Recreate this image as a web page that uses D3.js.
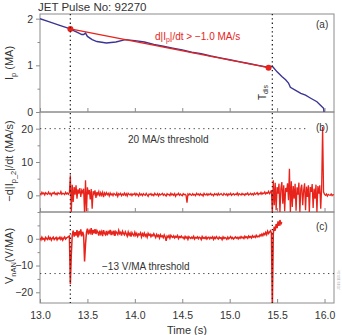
<!DOCTYPE html>
<html><head><meta charset="utf-8">
<script src="https://cdn.jsdelivr.net/npm/d3@7"></script>
<style>body{margin:0;background:#fff}svg{display:block;font-family:"Liberation Sans",Arial,sans-serif}</style>
</head><body><svg id="c" width="342" height="335"></svg>
<script>
const title = "JET Pulse No: 92270";
const xTicks = [13.0, 13.5, 14.0, 14.5, 15.0, 15.5, 16.0];
const xTickLabels = ["13.0", "13.5", "14.0", "14.5", "15.0", "15.5", "16.0"];
const aTicks = [0, 1, 2], aMinor = [0.5, 1.5];
const bTicks = [0, 10, 20], bMinor = [-5, 5, 15, 25];
const cTicks = [-20, -10, 0], cMinor = [-15, -5, 5];

// Plasma current (panel a)
const ipTime = [13.00,13.10,13.20,13.32,13.36,13.40,13.44,13.46,13.48,13.50,13.55,13.60,13.70,13.80,13.90,14.00,14.10,14.20,14.30,14.40,14.50,14.60,14.70,14.80,14.90,15.00,15.10,15.20,15.30,15.40,15.45,15.50,15.55,15.59,15.62,15.64,15.70,15.75,15.80,15.85,15.92,15.96,15.99,15.995];
const ipVal  = [2.00,1.93,1.86,1.78,1.74,1.70,1.66,1.66,1.69,1.62,1.55,1.51,1.48,1.50,1.55,1.53,1.50,1.45,1.41,1.37,1.33,1.28,1.25,1.20,1.16,1.12,1.08,1.04,1.00,0.96,0.98,0.86,0.76,0.69,0.62,0.53,0.46,0.40,0.36,0.30,0.22,0.14,0.08,0.0];
const fitTime = [13.32, 15.41];
const fitVal  = [1.78, 0.95];

// -d|Ip2|/dt (panel b), sampled every 0.01 s from 13.00
const dipStart = 13.0, dipStep = 0.01;
const dipVal = [0.6,0.2,0.9,0.4,0.7,0.1,0.8,0.5,0.3,1.0,0.4,0.6,0.0,0.7,0.5,0.9,0.3,0.6,0.2,0.8,0.5,0.4,1.1,0.3,0.6,0.5,0.2,0.9,0.4,0.7,0.3,0.8,
6.0,-5.5,3.2,-2,2.5,0.2,3.0,-1.0,1.8,0.5,2.2,-0.5,1.5,0.8,2.0,-5.5,4.5,-4.8,2.4,0.3,1.6,-1.2,1.9,-4.0,1.2,0.4,1.5,-0.8,1.0,
0.2,1.1,-0.3,0.8,0.0,0.9,-0.5,0.7,0.1,0.8,
0.2,0.6,-0.2,0.7,0.1,0.5,-0.1,0.6,0.3,0.0,0.7,-0.3,0.5,0.2,0.6,-0.1,0.4,0.1,0.7,0.0,0.5,-0.2,0.6,0.3,0.1,0.5,-0.1,0.4,0.2,0.6,
0.0,0.5,0.2,-0.2,0.6,0.1,0.4,-0.1,0.5,0.2,0.0,0.6,0.1,-0.3,0.4,0.2,0.5,0.0,0.3,-0.1,0.6,0.2,0.1,0.5,-0.2,0.4,0.1,0.3,0.6,0.0,
0.4,0.1,-0.2,0.5,0.2,0.3,-0.1,0.6,0.1,0.4,0.0,0.5,-0.3,0.3,0.2,0.6,0.0,0.4,0.1,-0.1,0.5,0.2,0.3,0.0,-2.2,0.4,0.1,0.5,0.2,0.0,
0.5,0.1,0.3,-0.1,0.6,0.2,0.4,0.0,0.5,0.1,0.3,-0.2,0.6,0.2,0.1,0.5,0.0,0.4,0.2,0.6,0.1,0.3,-0.1,0.5,0.2,0.4,0.0,0.6,0.1,0.3,
0.5,0.2,0.0,0.6,0.3,0.1,0.5,-0.1,0.4,0.2,0.6,0.0,0.3,0.5,0.1,0.4,0.2,0.7,0.0,0.5,0.3,0.1,0.6,0.2,0.4,0.0,0.5,0.3,0.7,0.1,
0.3,0.6,0.2,0.5,0.1,0.7,0.3,0.5,0.8,0.2,0.6,0.4,0.9,0.3,0.7,0.5,1.0,0.4,0.8,0.6,1.2,0.5,0.9,1.5,
-5.5,
4.5,-3.0,3.8,-4.5,2.5,0.5,3.5,-5.0,2.0,4.0,
-2.5,3.0,-4.8,2.2,1.0,3.6,-1.5,8.0,-5.0,4.2,
-3.5,2.8,-1.0,3.5,-4.6,2.4,0.2,3.8,-5.0,2.0,
3.2,-3.0,1.5,3.6,-4.5,2.6,-0.5,3.0,-5.0,2.5,
1.0,3.4,-3.8,2.0,-1.0,3.2,-5.0,2.8,0.5,3.0,
-4.0,2.5,
20.5,1.0,
0.3,0.0,0.4,-0.2,0.3,0.1,0.0,0.4,-0.1,0.2,0.1];

// V_nAN (panel c), sampled every 0.01 s from 13.00
const vStart = 13.0, vStep = 0.01;
const vVal = [0.3,-0.4,0.6,-0.2,0.1,-0.6,0.5,0.0,-0.3,0.7,-0.1,0.4,-0.5,0.2,0.6,-0.3,0.1,0.5,-0.4,0.3,0.0,0.6,-0.2,0.4,-0.5,0.2,0.7,-0.1,0.3,0.5,0.8,1.0,
-17,-6,
1.5,3.0,0.8,2.5,1.2,3.2,0.5,2.8,1.8,3.5,0.9,2.6,1.4,
-8.5,-2,
2.4,3.8,1.6,3.0,2.2,4.0,1.5,3.3,2.0,3.6,1.8,3.1,
2.4,1.2,3.0,1.8,2.7,1.0,3.2,2.0,1.5,2.9,1.3,2.6,2.1,3.3,1.4,2.5,1.8,3.0,1.1,2.7,2.2,1.6,3.1,1.9,2.4,1.2,2.8,2.0,1.5,2.6,
1.8,1.0,2.5,1.4,2.1,0.8,2.3,1.6,1.1,2.4,1.3,2.0,0.9,1.8,1.5,2.2,0.7,1.9,1.2,2.1,1.0,1.6,0.6,2.0,1.3,1.7,0.8,1.5,1.1,1.9,
1.2,0.5,1.6,0.9,1.3,0.3,1.5,0.8,1.1,0.4,1.4,0.7,-0.8,1.0,0.6,1.2,0.2,1.3,0.8,0.5,1.1,0.3,0.9,0.6,1.2,0.1,0.8,0.5,1.0,0.4,
0.6,0.0,0.9,0.3,0.7,-0.2,0.8,0.4,0.1,0.6,0.2,0.9,-0.1,0.5,0.3,0.7,0.0,0.6,0.4,-0.3,0.8,0.2,0.5,0.1,0.7,-0.1,0.4,0.6,0.0,0.5,
0.2,0.7,-0.2,0.5,0.1,0.8,0.3,-0.1,0.6,0.2,0.4,-0.3,0.7,0.1,0.5,0.3,-0.2,0.6,0.0,0.4,0.8,0.1,0.5,-0.1,0.3,0.7,0.2,0.5,0.0,0.6,
0.2,0.8,0.3,0.6,0.1,0.9,0.4,0.7,0.2,1.0,0.5,0.8,0.3,1.1,0.6,0.9,0.5,1.3,0.7,1.0,0.8,1.5,1.1,1.8,1.2,2.0,1.5,2.4,1.6,2.8,2.0,2.5,3.0,2.2,
-26,
2.0,4.5,3.0,5.5,4.0,6.5,4.8,7.0,5.5,6.2];

const markTimes = [13.32, 15.45];
const thrB = 20, thrC = -13;

const RED = "#e8231b", BLUE = "#3a3594", FRAME = "#8c8c8c", TXT = "#333";
const svg = d3.select("#c");
const L = 40, R = 334;
const x = d3.scaleLinear().domain([13, 16.1]).range([L, R]);
const panels = [
  {id:"a", y: d3.scaleLinear().domain([0, 2.1]).range([112, 14]), ticks:aTicks, minor:aMinor},
  {id:"b", y: d3.scaleLinear().domain([-5, 25]).range([212, 112]), ticks:bTicks, minor:bMinor},
  {id:"c", y: d3.scaleLinear().domain([-24, 10]).range([303, 212]), ticks:cTicks, minor:cMinor}
];

panels.forEach((p, k) => {
  const [y0, y1] = p.y.range();
  svg.append("clipPath").attr("id", "clip" + p.id).append("rect")
    .attr("x", L).attr("y", y1).attr("width", R - L).attr("height", y0 - y1);
  const ya = svg.append("g").attr("transform", `translate(${L},0)`)
    .call(d3.axisLeft(p.y).tickValues(p.ticks).tickSize(4).tickFormat(d => d < 0 ? "\u2212" + Math.abs(d) : d));
  ya.select(".domain").remove();
  ya.selectAll("line").attr("stroke", FRAME);
  ya.selectAll("text").attr("fill", TXT).attr("font-size", 10.5).attr("font-family", "Liberation Sans, Arial, sans-serif");
  const ym = svg.append("g").attr("transform", `translate(${L},0)`)
    .call(d3.axisLeft(p.y).tickValues(p.minor.filter(v => v >= p.y.domain()[0] && v <= p.y.domain()[1])).tickSize(2.5).tickFormat(""));
  ym.select(".domain").remove();
  ym.selectAll("line").attr("stroke", FRAME);
  const xa = svg.append("g").attr("transform", `translate(0,${y0})`)
    .call(d3.axisBottom(x).tickValues(xTicks).tickSizeInner(-4).tickSizeOuter(0)
      .tickFormat((d, i) => k === 2 ? xTickLabels[i] : ""));
  xa.select(".domain").remove();
  xa.selectAll("line").attr("stroke", FRAME);
  xa.selectAll("text").attr("fill", TXT).attr("font-size", 10.5).attr("dy", "1.25em")
    .attr("font-family", "Liberation Sans, Arial, sans-serif");
  svg.append("rect").attr("x", L).attr("y", y1).attr("width", R - L).attr("height", y0 - y1)
    .attr("fill", "none").attr("stroke", FRAME).attr("stroke-width", 1);
});

const [pa, pb, pc] = panels;

// Panel a
const lineA = d3.line().x(d => x(d[0])).y(d => pa.y(d[1]));
svg.append("path").datum(ipTime.map((t, i) => [t, ipVal[i]]))
  .attr("clip-path", "url(#clipa)").attr("d", lineA)
  .attr("fill", "none").attr("stroke", BLUE).attr("stroke-width", 1.4);
svg.append("path").datum(fitTime.map((t, i) => [t, fitVal[i]]))
  .attr("d", lineA).attr("fill", "none").attr("stroke", RED).attr("stroke-width", 1.4);
svg.selectAll(".dot").data(fitTime.map((t, i) => [t, fitVal[i]])).enter().append("circle")
  .attr("cx", d => x(d[0])).attr("cy", d => pa.y(d[1])).attr("r", 3).attr("fill", RED);

// Panel b
const lineB = d3.line().x((d, i) => x(dipStart + i * dipStep)).y(d => pb.y(d));
svg.append("path").datum(dipVal).attr("clip-path", "url(#clipb)").attr("d", lineB)
  .attr("fill", "none").attr("stroke", RED).attr("stroke-width", 1.3);
svg.append("line").attr("x1", L).attr("x2", x(15.8)).attr("y1", pb.y(thrB)).attr("y2", pb.y(thrB))
  .attr("stroke", "#444").attr("stroke-width", 1).attr("stroke-dasharray", "1.3,3.5");

// Panel c
const lineC = d3.line().x((d, i) => x(vStart + i * vStep)).y(d => pc.y(d));
svg.append("path").datum(vVal).attr("clip-path", "url(#clipc)").attr("d", lineC)
  .attr("fill", "none").attr("stroke", RED).attr("stroke-width", 1.5);
svg.append("line").attr("x1", L).attr("x2", R).attr("y1", pc.y(thrC)).attr("y2", pc.y(thrC))
  .attr("stroke", "#444").attr("stroke-width", 1).attr("stroke-dasharray", "1.3,3.5");

// Vertical dotted markers
markTimes.forEach(t => {
  svg.append("line").attr("x1", x(t)).attr("x2", x(t)).attr("y1", pa.y.range()[1]).attr("y2", pc.y.range()[0])
    .attr("stroke", "#222").attr("stroke-width", 1.3).attr("stroke-dasharray", "1.3,3");
});

// Texts
const F = "Liberation Sans, Arial, sans-serif";
svg.append("text").attr("x", 38).attr("y", 11).attr("font-size", 11.5).attr("fill", TXT).attr("font-family", F).text(title);
[["(a)", 24], ["(b)", 127], ["(c)", 226]].forEach(([s, yy]) =>
  svg.append("text").attr("x", 316).attr("y", yy + 4).attr("font-size", 10).attr("fill", TXT).attr("font-family", F).text(s));

const fitLbl = svg.append("text").attr("x", 155).attr("y", 40).attr("font-size", 10).attr("fill", RED).attr("font-family", F);
fitLbl.append("tspan").text("d|I");
fitLbl.append("tspan").attr("font-size", 7).attr("dy", 2).text("p");
fitLbl.append("tspan").attr("dy", -2).text("|/dt > \u22121.0 MA/s");

const tdis = svg.append("text").attr("transform", `translate(${x(15.45) - 6},100) rotate(-90)`)
  .attr("font-size", 10).attr("fill", TXT).attr("font-family", F);
tdis.append("tspan").text("T");
tdis.append("tspan").attr("font-size", 7).attr("dy", 2).text("dis");

svg.append("text").attr("x", 128).attr("y", 143).attr("font-size", 10).attr("fill", TXT).attr("font-family", F).text("20 MA/s threshold");
svg.append("text").attr("x", 102).attr("y", 270).attr("font-size", 10).attr("fill", TXT).attr("font-family", F).text("\u221213 V/MA threshold");

// Y labels
function ylab(cy, parts) {
  const t = svg.append("text").attr("transform", `translate(13,${cy}) rotate(-90)`)
    .attr("text-anchor", "middle").attr("font-size", 11).attr("fill", TXT).attr("font-family", F);
  parts.forEach(([s, sub]) => {
    t.append("tspan").attr("font-size", sub === 1 ? 7.5 : 11).attr("dy", sub === 1 ? 2.5 : sub === -1 ? -2.5 : 0).text(s);
  });
}
ylab(63, [["I", 0], ["p", 1], [" (MA)", -1]]);
ylab(161, [["\u2212d|I", 0], ["p_2", 1], ["|/dt (MA/s)", -1]]);
ylab(256, [["V", 0], ["nAN", 1], ["(V/MA)", -1]]);

svg.append("text").attr("x", 187).attr("y", 334).attr("text-anchor", "middle").attr("font-size", 11)
  .attr("fill", TXT).attr("font-family", F).text("Time (s)");

svg.append("text").attr("transform", "translate(340,290) rotate(-90)").attr("font-size", 3.5)
  .attr("fill", "#aaa").attr("font-family", F).text("JG19.110-1c");
</script></body></html>
